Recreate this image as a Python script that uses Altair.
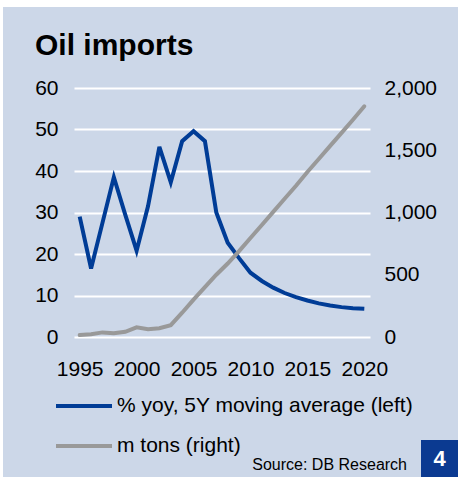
import altair as alt
import pandas as pd

years = list(range(1995, 2021))
yoy = [29.0, 16.5, 27.5, 38.5, 29.5, 20.8, 31.5, 45.8, 37.3, 47.2, 49.6, 47.2, 30.0,
       22.7, 19.0, 15.5, 13.5, 11.9, 10.6, 9.6, 8.8, 8.1, 7.6, 7.2, 6.95, 6.8]
tons = [16, 22, 37, 30, 42, 78, 62, 70, 95, 195, 300, 400, 500,
        590, 690, 795, 900, 1005, 1110, 1215, 1325, 1430, 1535, 1640, 1745, 1853]

s1 = "% yoy, 5Y moving average (left)"
s2 = "m tons (right)"

df1 = pd.DataFrame({"year": years, "value": yoy, "series": s1})
df2 = pd.DataFrame({"year": years, "value": tons, "series": s2})

FONT = "Liberation Sans"
BG = "#CCD7E8"
BLUE = "#003C96"
GRAY = "#999999"

color = alt.Color(
    "series:N",
    scale=alt.Scale(domain=[s1, s2], range=[BLUE, GRAY]),
    legend=alt.Legend(
        title=None, orient="none", legendX=-20, legendY=288,
        symbolType="stroke", symbolSize=3136, symbolStrokeWidth=4,
        labelFont=FONT, labelFontSize=21, labelColor="#000000",
        labelOffset=3, rowPadding=-25, labelLimit=400,
    ),
)

xenc = alt.X(
    "year:Q",
    scale=alt.Scale(domain=[1994.5, 2020.5], nice=False, zero=False),
    axis=alt.Axis(values=[1995, 2000, 2005, 2010, 2015, 2020], format="d",
                  title=None, grid=False, domain=False, ticks=False,
                  labelPadding=21, labelFlush=False),
)

one = pd.DataFrame({"a": [0]})
strip_left = alt.Chart(one).mark_rect(color="#FFFFFF", clip=False).encode(
    x=alt.value(-74), x2=alt.value(-71), y=alt.value(-88), y2=alt.value(389)
)
strip_top = alt.Chart(one).mark_rect(color="#FFFFFF", clip=False).encode(
    x=alt.value(-74), x2=alt.value(384), y=alt.value(-88), y2=alt.value(-81)
)

left = alt.Chart(df1).mark_line(strokeWidth=4, strokeJoin="miter").encode(
    x=xenc,
    y=alt.Y("value:Q", scale=alt.Scale(domain=[0, 60], nice=False),
            axis=alt.Axis(values=[0, 10, 20, 30, 40, 50, 60], title=None,
                          orient="left", grid=True, gridColor="#FFFFFF",
                          gridWidth=2, domain=False, ticks=False,
                          labelPadding=16)),
    color=color,
)

right = alt.Chart(df2).mark_line(strokeWidth=4, strokeCap="round").encode(
    x=xenc,
    y=alt.Y("value:Q", scale=alt.Scale(domain=[0, 2000], nice=False),
            axis=alt.Axis(values=[0, 500, 1000, 1500, 2000], format=",d",
                          title=None, orient="right", grid=False,
                          domain=False, ticks=False, labelPadding=14)),
    color=color,
)

title = alt.Chart(pd.DataFrame({"t": ["Oil imports"]})).mark_text(
    font=FONT, fontSize=30, fontWeight="bold", align="left",
    baseline="alphabetic", color="#000000"
).encode(text="t:N", x=alt.value(-39), y=alt.value(-33))

source = alt.Chart(pd.DataFrame({"t": ["Source: DB Research"]})).mark_text(
    font=FONT, fontSize=16, align="right", baseline="alphabetic", color="#000000"
).encode(text="t:N", x=alt.value(333), y=alt.value(382))

box = alt.Chart(one).mark_rect(color="#0B3A91", clip=False).encode(
    x=alt.value(347), x2=alt.value(384), y=alt.value(352), y2=alt.value(389)
)

num = alt.Chart(pd.DataFrame({"t": ["4"]})).mark_text(
    font=FONT, fontSize=22, fontWeight="bold", align="center",
    baseline="middle", color="#FFFFFF"
).encode(text="t:N", x=alt.value(365.5), y=alt.value(371))

chart = alt.layer(strip_left, strip_top, left, right, title, source, box, num).resolve_scale(
    y="independent"
).properties(
    width=296, height=249,
    padding={"left": 74, "top": 88, "right": 88, "bottom": 140},
    autosize=alt.AutoSizeParams(type="none"),
    background=BG,
).configure_view(stroke=None).configure_axis(
    labelFont=FONT, labelFontSize=21, labelColor="#000000"
)

chart.save("out.html", embed_options={"renderer": "svg", "actions": False})
